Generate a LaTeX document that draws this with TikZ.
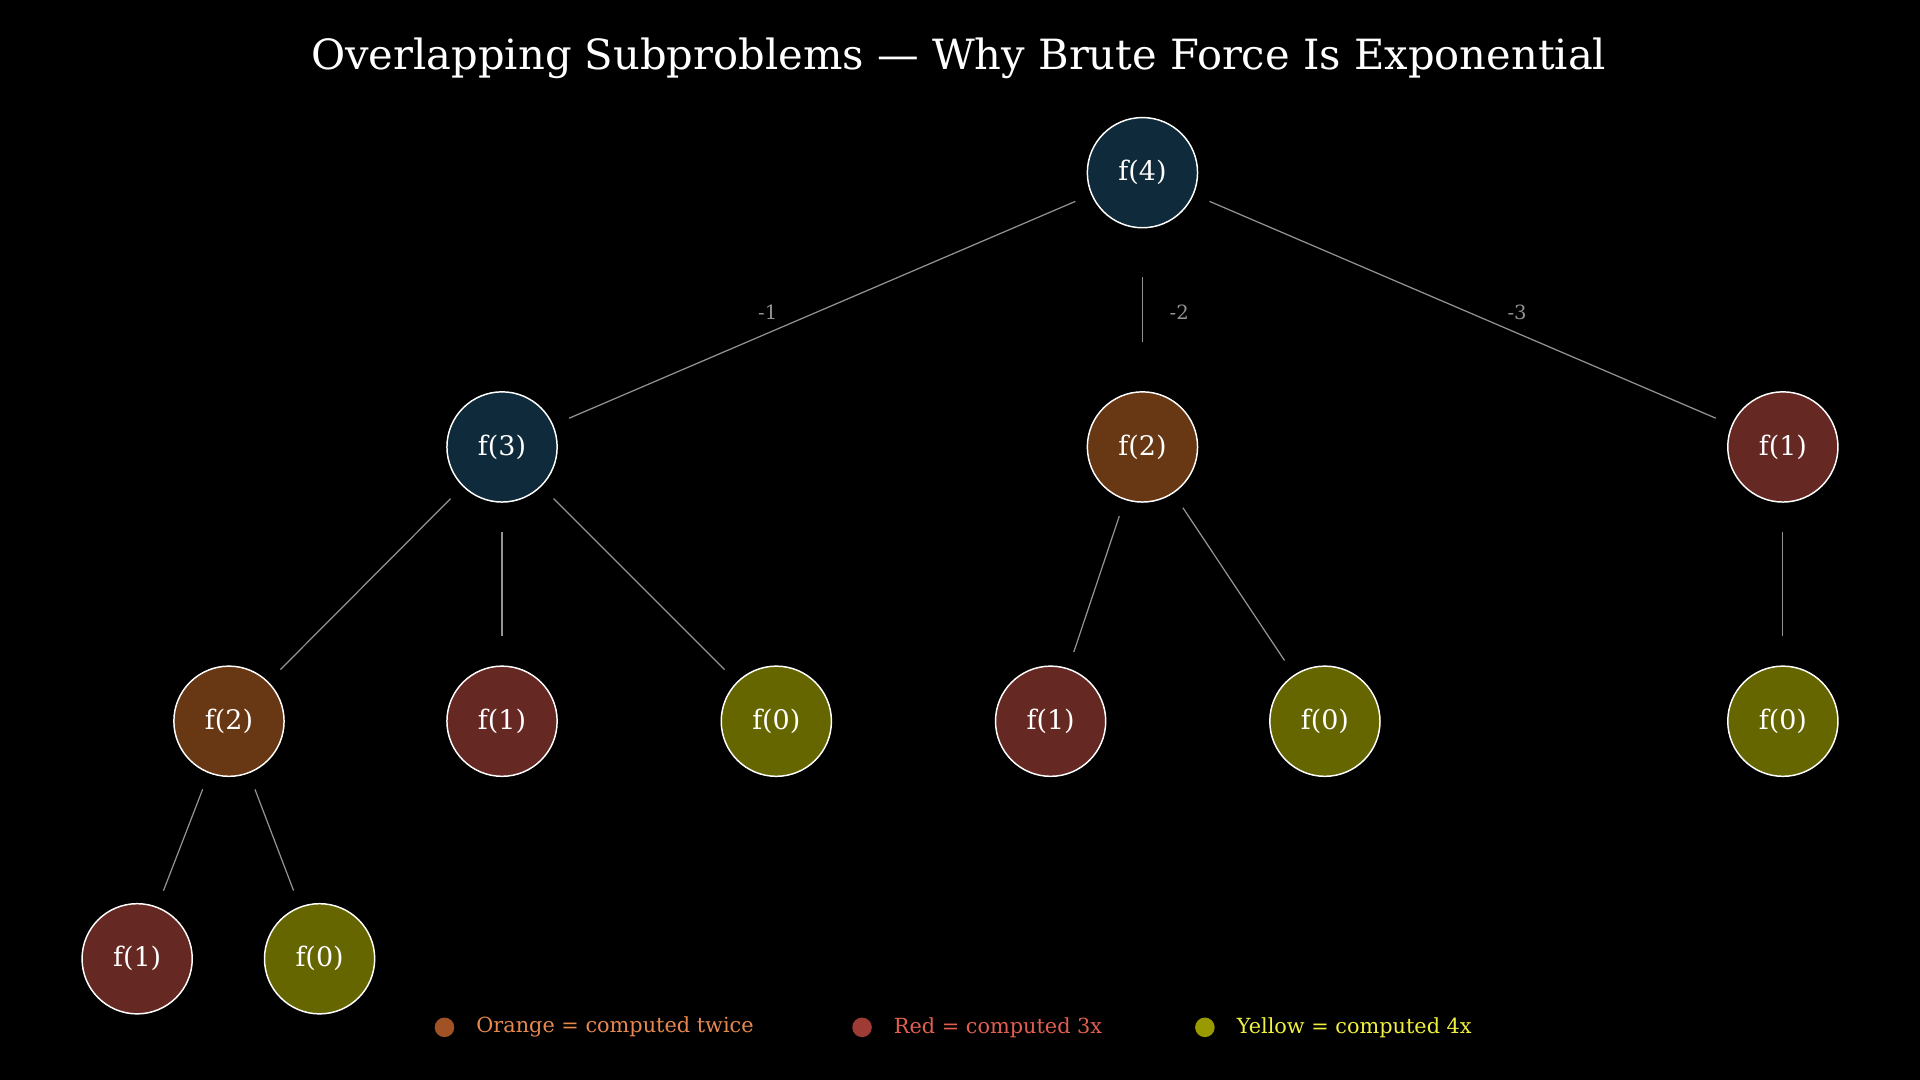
\documentclass[tikz,border=0pt]{standalone}
\usepackage{fontspec}
\setmainfont{DejaVu Serif}
\begin{document}
\begin{tikzpicture}[x=0.5pt,y=-0.5pt,
  nd/.style={circle,draw=white,line width=0.6pt,minimum size=45pt,inner sep=0pt,text=white,font=\fontsize{11}{12}\selectfont},
  navy/.style={nd,fill=cNavy}, brn/.style={nd,fill=cBrown}, rd/.style={nd,fill=cRed}, olv/.style={nd,fill=cOlive},
  ed/.style={draw=gray!85,line width=0.5pt,shorten >=7pt,shorten <=7pt},
  el/.style={text=gray!85,font=\fontsize{8}{9}\selectfont},
  lg/.style={anchor=west,font=\fontsize{8.5}{10}\selectfont}]
\definecolor{cNavy}{HTML}{0F2A3A}
\definecolor{cBrown}{HTML}{683714}
\definecolor{cRed}{HTML}{662822}
\definecolor{cOlive}{HTML}{666600}
\fill[black] (0,0) rectangle (1568,882);
\useasboundingbox (0,0) rectangle (1568,882);
\node[text=white,font=\fontsize{17}{20}\selectfont] (title) at (783,48) {Overlapping Subproblems — Why Brute Force Is Exponential};
\node[navy] (a) at (933,141) {f(4)};
\node[navy] (b) at (410,365) {f(3)};
\node[brn] (c) at (933,365) {f(2)};
\node[rd] (d) at (1456,365) {f(1)};
\node[brn] (e) at (187,589) {f(2)};
\node[rd] (f) at (410,589) {f(1)};
\node[olv] (g) at (634,589) {f(0)};
\node[rd] (h) at (858,589) {f(1)};
\node[olv] (i) at (1082,589) {f(0)};
\node[olv] (j) at (1456,589) {f(0)};
\node[rd] (k) at (112,783) {f(1)};
\node[olv] (l) at (261,783) {f(0)};
\draw[ed] (a) -- (b); \draw[ed,shorten >=20pt,shorten <=20pt] (a) -- (c); \draw[ed] (a) -- (d);
\draw[ed] (b) -- (e); \draw[ed,shorten >=12pt,shorten <=12pt] (b) -- (f); \draw[ed] (b) -- (g);
\draw[ed] (c) -- (h); \draw[ed] (c) -- (i);
\draw[ed,shorten >=12pt,shorten <=12pt] (d) -- (j);
\draw[ed] (e) -- (k); \draw[ed] (e) -- (l);
\node[el] (l1) at (627,255) {-1};
\node[el] (l2) at (963,255) {-2};
\node[el] (l3) at (1239,255) {-3};
\fill[color={rgb,255:red,160;green,82;blue,36}] (363,839) circle (8);
\node[lg,text={rgb,255:red,230;green,136;blue,80}] (t1) at (382,839) {Orange = computed twice};
\fill[color={rgb,255:red,158;green,59;blue,53}] (704,839) circle (8);
\node[lg,text={rgb,255:red,225;green,95;blue,80}] (t2) at (723,839) {Red = computed 3x};
\fill[color={rgb,255:red,153;green,153;blue,0}] (984,839) circle (8);
\node[lg,text={rgb,255:red,240;green,240;blue,64}] (t3) at (1003,839) {Yellow = computed 4x};
\end{tikzpicture}
\end{document}
